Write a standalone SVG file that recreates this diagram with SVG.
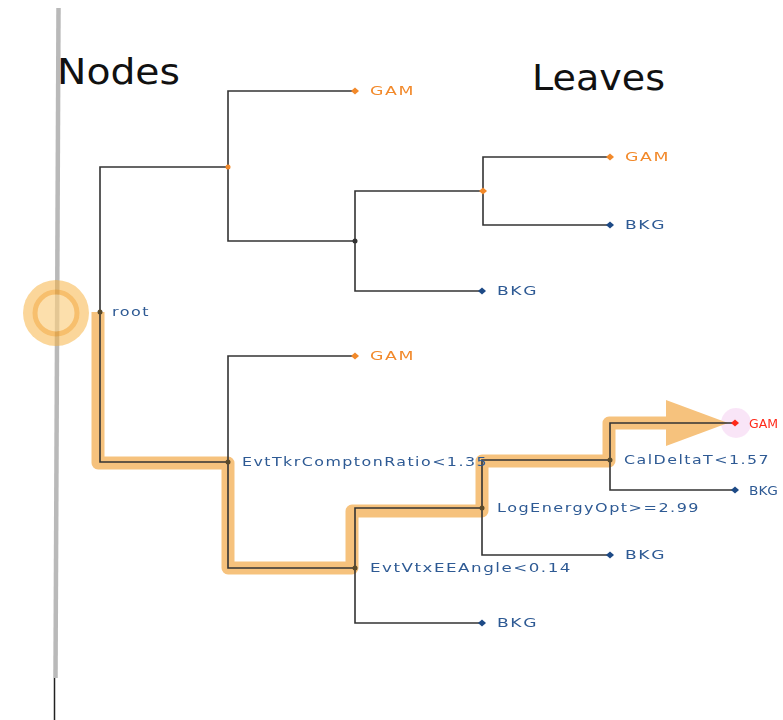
<svg xmlns="http://www.w3.org/2000/svg" width="783" height="720" viewBox="0 0 783 720">
  <style>
    .edge { fill: none; stroke: #333333; stroke-width: 1.6; }
    .lbl { font-family: "DejaVu Sans", Verdana, sans-serif; font-size: 13px; letter-spacing: 1.2px; }
    .tight { letter-spacing: 0; }
    .blue { fill: #2e5a94; }
    .orange { fill: #f2892a; }
    .red { fill: #ff2a1a; }
    .title { font-family: "DejaVu Sans", "Liberation Sans", sans-serif; font-size: 36px; fill: #111111; }
  </style>
  <defs>
    <path id="dia" d="M-4,0 L0,-3.5 L4,0 L0,3.5 Z"/>
  </defs>

  <rect width="783" height="720" fill="#ffffff"/>

  <!-- axis bar separating nodes column -->
  <line x1="58.5" y1="8" x2="55.5" y2="678" stroke="#b9b9b9" stroke-width="4.5"/>
  <line x1="54.5" y1="678" x2="54.5" y2="720" stroke="#222222" stroke-width="1.5"/>

  <text class="title" x="57" y="84" textLength="123" lengthAdjust="spacingAndGlyphs">Nodes</text>
  <text class="title" x="532" y="90" textLength="133" lengthAdjust="spacingAndGlyphs">Leaves</text>

  <!-- highlighted decision path -->
  <g id="path-highlight" opacity="0.66">
    <circle cx="56" cy="313" r="33" fill="#f6b13e" opacity="0.8"/>
    <circle cx="56" cy="313" r="21" fill="#fbcf82" stroke="#f39e22" stroke-width="5"/>
    <circle cx="736" cy="423" r="15" fill="#f4c8f0" opacity="0.7"/>
    <path d="M98,312 V463 H228 V568 H352 V511 H482 V461 H609 V423 H672" fill="none" stroke="#f2a33a" stroke-width="13" stroke-linejoin="round"/>
    <polygon points="666,400 728,423 666,446" fill="#f2a33a"/>
  </g>

  <!-- connectors -->
  <g id="connectors">
    <path class="edge" d="M228,167 H100 V462 H228"/>
    <path class="edge" d="M355,91 H228 V241 H355"/>
    <path class="edge" d="M483,191 H355 V291 H482"/>
    <path class="edge" d="M610,157 H483 V225 H610"/>
    <path class="edge" d="M355,356 H228 V568 H355"/>
    <path class="edge" d="M482,508 H355 V623 H482"/>
    <path class="edge" d="M610,460 H482 V555 H610"/>
    <path class="edge" d="M735,423 H610 V490 H735"/>
  </g>

  <!-- internal nodes -->
  <g id="root"><circle cx="100" cy="312" r="2.5" fill="#5a4a2a"/><text class="lbl blue" x="112" y="316" textLength="38" lengthAdjust="spacingAndGlyphs">root</text></g>
  <g id="n1"><circle cx="228" cy="167" r="2.5" fill="#f2892a"/></g>
  <g id="n2"><circle cx="355" cy="241" r="2.5" fill="#333333"/></g>
  <g id="n3"><use href="#dia" x="483" y="191" fill="#f2892a"/></g>
  <g id="n4"><circle cx="228" cy="462" r="2.5" fill="#5a4a2a"/><text class="lbl blue" x="242" y="466" textLength="246" lengthAdjust="spacingAndGlyphs">EvtTkrComptonRatio&lt;1.35</text></g>
  <g id="n5"><circle cx="355" cy="568" r="2.5" fill="#5a4a2a"/><text class="lbl blue" x="370" y="572" textLength="202" lengthAdjust="spacingAndGlyphs">EvtVtxEEAngle&lt;0.14</text></g>
  <g id="n6"><circle cx="482" cy="508" r="2.5" fill="#5a4a2a"/><text class="lbl blue" x="497" y="512" textLength="203" lengthAdjust="spacingAndGlyphs">LogEnergyOpt&gt;=2.99</text></g>
  <g id="n7"><circle cx="610" cy="460" r="2.5" fill="#5a4a2a"/><text class="lbl blue" x="624" y="464" font-size="14" textLength="146" lengthAdjust="spacingAndGlyphs">CalDeltaT&lt;1.57</text></g>

  <!-- leaves -->
  <g id="leaf1"><use href="#dia" x="355" y="91" fill="#f2892a"/><text class="lbl orange" x="370" y="95" textLength="45" lengthAdjust="spacingAndGlyphs">GAM</text></g>
  <g id="leaf2"><use href="#dia" x="610" y="157" fill="#f2892a"/><text class="lbl orange" x="625" y="161" textLength="45" lengthAdjust="spacingAndGlyphs">GAM</text></g>
  <g id="leaf3"><use href="#dia" x="610" y="225" fill="#1d4a86"/><text class="lbl blue" x="625" y="229" textLength="41" lengthAdjust="spacingAndGlyphs">BKG</text></g>
  <g id="leaf4"><use href="#dia" x="482" y="291" fill="#1d4a86"/><text class="lbl blue" x="497" y="295" textLength="41" lengthAdjust="spacingAndGlyphs">BKG</text></g>
  <g id="leaf5"><use href="#dia" x="355" y="356" fill="#f2892a"/><text class="lbl orange" x="370" y="360" textLength="45" lengthAdjust="spacingAndGlyphs">GAM</text></g>
  <g id="leaf6"><use href="#dia" x="735" y="423" fill="#ff2a1a"/><text class="lbl tight red" x="749" y="428" font-size="13" textLength="29" lengthAdjust="spacingAndGlyphs">GAM</text></g>
  <g id="leaf7"><use href="#dia" x="735" y="490" fill="#1d4a86"/><text class="lbl tight blue" x="749" y="495" font-size="13" textLength="29" lengthAdjust="spacingAndGlyphs">BKG</text></g>
  <g id="leaf8"><use href="#dia" x="610" y="555" fill="#1d4a86"/><text class="lbl blue" x="625" y="559" textLength="41" lengthAdjust="spacingAndGlyphs">BKG</text></g>
  <g id="leaf9"><use href="#dia" x="482" y="623" fill="#1d4a86"/><text class="lbl blue" x="497" y="627" textLength="41" lengthAdjust="spacingAndGlyphs">BKG</text></g>
</svg>
